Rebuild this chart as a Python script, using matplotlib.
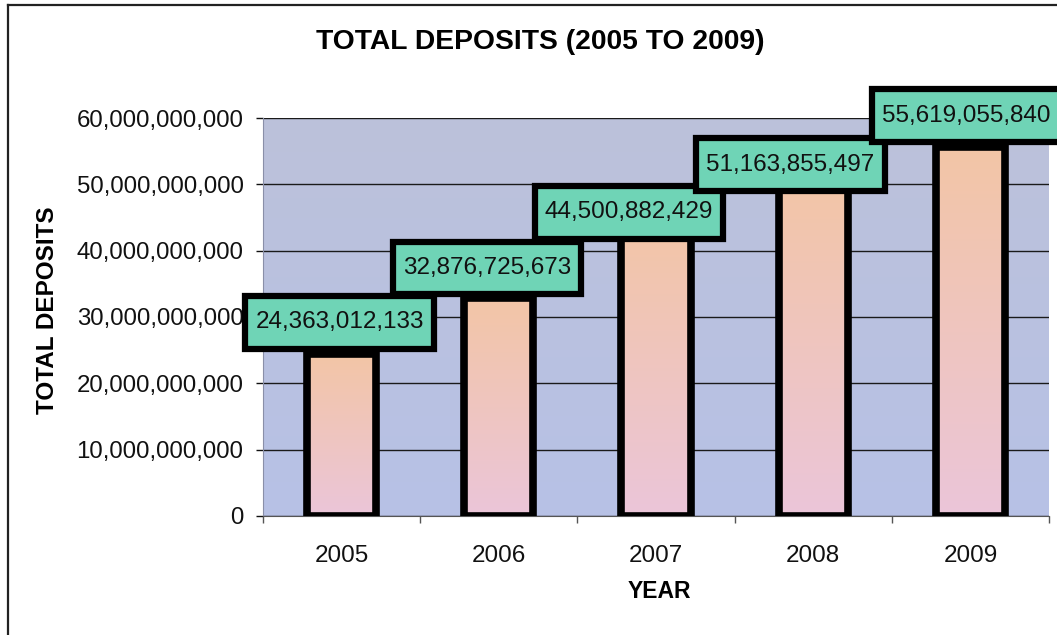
import matplotlib
matplotlib.use("Agg")
import matplotlib.pyplot as plt
import numpy as np
from matplotlib.colors import LinearSegmentedColormap
from matplotlib.lines import Line2D
from matplotlib.ticker import FuncFormatter, MultipleLocator, FixedLocator

years = ["2005", "2006", "2007", "2008", "2009"]
deposits = [24363012133, 32876725673, 44500882429, 51163855497, 55619055840]

# where each value box sits, relative to the top centre of its bar (points)
label_shift = [(-1.5, 23), (-8.5, 21.5), (-19.5, 6), (-16.5, 8.5), (-3, 22.5)]

plt.rcParams["font.family"] = ["Liberation Sans", "DejaVu Sans"]

fig = plt.figure(figsize=(10.57, 6.35), dpi=100)
ax = fig.add_axes([263 / 1057, 1 - 516 / 635, 786 / 1057, 398 / 635])

x = np.arange(len(years))
ax.set_xlim(-0.5, len(years) - 0.5)
ax.set_ylim(0, 60e9)

# plot area background: grey-blue fading to a bluer tone at the bottom
bg_cmap = LinearSegmentedColormap.from_list("bg", ["#b7c1e6", "#bcc2da"])
grad = np.linspace(0, 1, 256).reshape(-1, 1)
ax.imshow(grad, cmap=bg_cmap, origin="lower", aspect="auto",
          extent=(-0.5, len(years) - 0.5, 0, 60e9), zorder=0)

ax.yaxis.set_major_locator(MultipleLocator(10e9))
ax.grid(axis="y", color="#1a1a1a", linewidth=1.0, zorder=1)

# bars: peach at the top, pink at the bottom, heavy black outline
bar_cmap = LinearSegmentedColormap.from_list("bar", ["#ebc5d9", "#f3c6a6"])
bars = ax.bar(x, deposits, width=0.44, facecolor="none", edgecolor="black",
              linewidth=5.5, zorder=3)
for rect, val in zip(bars, deposits):
    x0 = rect.get_x()
    img = ax.imshow(grad, cmap=bar_cmap, origin="lower", aspect="auto",
                    extent=(x0, x0 + rect.get_width(), 0, val), zorder=2)
    img.set_clip_path(rect)

# value boxes laid out as a staircase over the bars
for xi, val, shift in zip(x, deposits, label_shift):
    ax.annotate(f"{val:,}", xy=(xi, val), xytext=shift,
                textcoords="offset points", ha="center", va="center",
                fontsize=17.5, color="#111111", zorder=5, annotation_clip=False,
                bbox=dict(boxstyle="square,pad=0.42", facecolor="#6fd4b6",
                          edgecolor="black", linewidth=4.5, mutation_aspect=1.5))

ax.yaxis.set_major_formatter(FuncFormatter(lambda v, p: f"{int(round(v)):,}"))
ax.tick_params(axis="y", labelsize=17.3, length=5, width=1, pad=9, colors="#111111")
ax.set_xticks(x)
ax.set_xticklabels(years)
ax.xaxis.set_minor_locator(FixedLocator(np.arange(-0.5, len(years), 1.0)))
ax.tick_params(axis="x", which="major", length=0, labelsize=17.5, pad=21,
               labelcolor="#111111")
ax.tick_params(axis="x", which="minor", length=5, width=1, color="#555555")

for side in ["top", "right"]:
    ax.spines[side].set_visible(False)
ax.spines["left"].set_color("#8a8fa8")
ax.spines["bottom"].set_color("#555555")

fig.text(540 / 1057, 1 - 42 / 635, "TOTAL DEPOSITS (2005 TO 2009)",
         ha="center", va="center", fontsize=20.3, fontweight="bold")
fig.text(48 / 1057, 1 - 310 / 635, "TOTAL DEPOSITS", rotation=90,
         ha="center", va="center", fontsize=17.5, fontweight="bold")
fig.text(659 / 1057, 1 - 592 / 635, "YEAR",
         ha="center", va="center", fontsize=16.5, fontweight="bold")

# outer chart frame (left and top edges)
fig.add_artist(Line2D([8 / 1057, 8 / 1057], [0, 1 - 5 / 635],
                      transform=fig.transFigure, color="#222222", linewidth=1.6))
fig.add_artist(Line2D([8 / 1057, 1], [1 - 5 / 635, 1 - 5 / 635],
                      transform=fig.transFigure, color="#222222", linewidth=1.6))

fig.savefig("out.png", dpi=100)
